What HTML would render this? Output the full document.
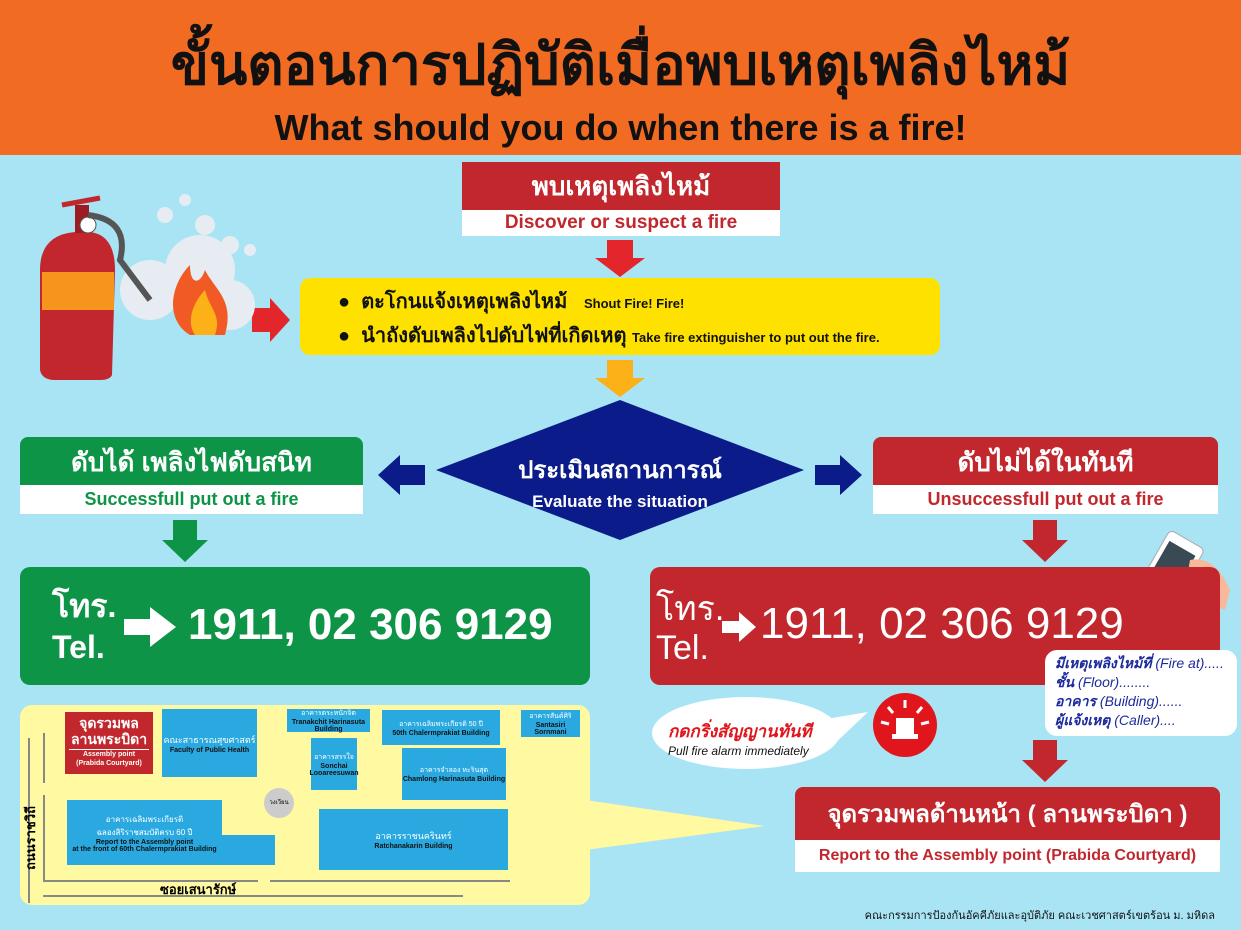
<!DOCTYPE html>
<html><head><meta charset="utf-8"><style>
*{margin:0;padding:0;box-sizing:border-box}
body{width:1241px;height:930px;position:relative;overflow:hidden;background:#a9e4f5;font-family:"Liberation Sans","DejaVu Sans",sans-serif}
.a{position:absolute}
.c{text-align:center}
.b{font-weight:bold}
.map div.bl{position:absolute;background:#29a9e0;color:#fff;font-size:7px;text-align:center;display:flex;flex-direction:column;justify-content:center;align-items:center}
.map div.bl b{color:#111;font-size:7px}
</style></head><body>
<div class="a" style="left:0;top:0;width:1241px;height:155px;background:#f26b22"></div>
<div class="a c b" style="left:0;top:30px;width:1241px;font-size:56px;line-height:70px;color:#111">ขั้นตอนการปฏิบัติเมื่อพบเหตุเพลิงไหม้</div>
<div class="a c b" style="left:0;top:107px;width:1241px;font-size:36px;line-height:42px;color:#111">What should you do when there is a fire!</div>

<div class="a c b" style="left:462px;top:162px;width:318px;height:48px;background:#c1272d;color:#fff;font-size:26px;line-height:48px">พบเหตุเพลิงไหม้</div>
<div class="a c b" style="left:462px;top:210px;width:318px;height:26px;background:#fff;color:#c1272d;font-size:19px;line-height:26px">Discover or suspect a fire</div>

<svg class="a" style="left:0;top:0" width="1241" height="930">
<polygon points="607,240 633,240 633,258 645,258 620,277 595,258 607,258" fill="#e2262b"/>
<polygon points="607,360 633,360 633,378 645,378 620,397 595,378 607,378" fill="#fbb117"/>
<polygon points="620,400 804,470 620,540 436,470" fill="#0b1c8a"/>
<polygon points="425,465 400,465 400,455 378,475 400,495 400,485 425,485" fill="#0b1c8a"/>
<polygon points="815,465 840,465 840,455 862,475 840,495 840,485 815,485" fill="#0b1c8a"/>
<polygon points="173,520 197,520 197,540 208,540 185,562 162,540 173,540" fill="#0e9447"/>
<polygon points="1033,520 1057,520 1057,540 1068,540 1045,562 1022,540 1033,540" fill="#c1272d"/>
<polygon points="1033,740 1057,740 1057,760 1068,760 1045,782 1022,760 1033,760" fill="#c1272d"/>
<polygon points="252,308 270,308 270,298 290,320 270,342 270,332 252,332" fill="#e2262b"/>
<g>
<circle cx="150" cy="290" r="30" fill="#e6ecf2"/><circle cx="200" cy="270" r="35" fill="#e6ecf2"/><circle cx="230" cy="305" r="25" fill="#e6ecf2"/><circle cx="165" cy="215" r="8" fill="#e6ecf2"/><circle cx="205" cy="225" r="10" fill="#e6ecf2"/><circle cx="230" cy="245" r="9" fill="#e6ecf2"/><circle cx="250" cy="250" r="6" fill="#e6ecf2"/><circle cx="185" cy="200" r="6" fill="#e6ecf2"/>
<path d="M190,335 C165,320 170,285 190,265 C190,285 200,285 205,270 C215,290 235,300 225,335 Z" fill="#f15a24"/>
<path d="M195,335 C185,320 195,300 205,290 C210,310 222,315 215,335 Z" fill="#fbb117"/>
<path d="M40,270 Q40,235 75,232 L90,232 Q115,235 115,270 L112,375 Q110,380 100,380 L55,380 Q42,380 40,370 Z" fill="#c1272d"/>
<rect x="42" y="272" width="72" height="38" fill="#f7941d"/>
<rect x="75" y="205" width="14" height="28" fill="#9c1c22"/>
<circle cx="88" cy="225" r="8" fill="#fff" stroke="#555"/>
<path d="M88,215 Q130,220 120,260 L150,300" stroke="#555" stroke-width="6" fill="none"/>
<path d="M62,205 L100,198" stroke="#c1272d" stroke-width="5"/>
</g>
<ellipse cx="746" cy="733" rx="94" ry="36" fill="#fff"/>
<polygon points="820,720 868,712 830,748" fill="#fff"/>
<circle cx="905" cy="725" r="32" fill="#e0161c"/>
<rect x="896" y="718" width="18" height="16" fill="#fff"/><rect x="892" y="734" width="26" height="5" fill="#fff"/>
<g stroke="#fff" stroke-width="3"><line x1="905" y1="700" x2="905" y2="708"/><line x1="888" y1="707" x2="893" y2="713"/><line x1="922" y1="707" x2="917" y2="713"/><line x1="881" y1="722" x2="889" y2="724"/><line x1="929" y1="722" x2="921" y2="724"/></g>
<polygon points="1165,600 1185,600 1140,665 1120,665" fill="#fff"/>
<g transform="rotate(30 1170 570)"><rect x="1150" y="535" width="40" height="70" rx="5" fill="#fff" stroke="#aaa"/><rect x="1155" y="545" width="30" height="50" fill="#3a4a55"/></g>
<path d="M1190,560 Q1215,555 1230,590 L1225,610 Q1200,600 1185,590 Z" fill="#f8b99a"/>
<polygon points="585,800 765,826 585,850" fill="#fff9a1"/>
</svg>

<div class="a" style="left:300px;top:278px;width:640px;height:77px;background:#ffe100;border-radius:10px"></div>
<div class="a" style="left:338px;top:288px;font-size:20px;line-height:28px;color:#111;font-weight:bold">●&nbsp; ตะโกนแจ้งเหตุเพลิงไหม้ &nbsp;&nbsp;<span style="font-size:13px">Shout Fire! Fire!</span></div>
<div class="a" style="left:338px;top:322px;font-size:20px;line-height:28px;color:#111;font-weight:bold">●&nbsp; นำถังดับเพลิงไปดับไฟที่เกิดเหตุ <span style="font-size:13px">Take fire extinguisher to put out the fire.</span></div>

<div class="a c b" style="left:470px;top:450px;width:300px;font-size:24px;color:#fff">ประเมินสถานการณ์</div>
<div class="a c b" style="left:470px;top:492px;width:300px;font-size:17px;color:#fff">Evaluate the situation</div>

<div class="a c b" style="left:20px;top:437px;width:343px;height:48px;background:#0e9447;border-radius:8px 8px 0 0;color:#fff;font-size:26px;line-height:50px">ดับได้ เพลิงไฟดับสนิท</div>
<div class="a c b" style="left:20px;top:485px;width:343px;height:29px;background:#fff;color:#0e9447;font-size:18px;line-height:29px">Successfull put out a fire</div>
<div class="a c b" style="left:873px;top:437px;width:345px;height:48px;background:#c1272d;border-radius:8px 8px 0 0;color:#fff;font-size:26px;line-height:50px">ดับไม่ได้ในทันที</div>
<div class="a c b" style="left:873px;top:485px;width:345px;height:29px;background:#fff;color:#c1272d;font-size:18px;line-height:29px">Unsuccessfull put out a fire</div>

<div class="a" style="left:20px;top:567px;width:570px;height:118px;background:#0e9447;border-radius:10px;color:#fff">
<div class="a b" style="left:32px;top:14px;font-size:32px">โทร.</div>
<div class="a b" style="left:32px;top:62px;font-size:32px">Tel.</div>
<svg class="a" style="left:104px;top:40px" width="52" height="40"><polygon points="0,12 26,12 26,0 52,20 26,40 26,28 0,28" fill="#fff"/></svg>
<div class="a b" style="left:168px;top:33px;font-size:44px">1911, 02 306 9129</div>
</div>
<div class="a" style="left:650px;top:567px;width:570px;height:118px;background:#c1272d;border-radius:10px;color:#fff">
<div class="a" style="left:6px;top:14px;font-size:34px">โทร.</div>
<div class="a" style="left:6px;top:62px;font-size:34px">Tel.</div>
<svg class="a" style="left:72px;top:45px" width="34" height="30"><polygon points="0,9 17,9 17,0 34,15 17,30 17,21 0,21" fill="#fff"/></svg>
<div class="a" style="left:110px;top:32px;font-size:44px">1911, 02 306 9129</div>
</div>

<div class="a" style="left:1045px;top:650px;width:192px;height:86px;background:#fff;border-radius:12px;color:#1c2a9c;font-size:14px;line-height:19px;padding:4px 10px;font-style:italic">
<b>มีเหตุเพลิงไหม้ที่</b> (Fire at).....<br><b>ชั้น</b> (Floor)........<br><b>อาคาร</b> (Building)......<br><b>ผู้แจ้งเหตุ</b> (Caller)....</div>

<div class="a b" style="left:668px;top:718px;font-size:17px;color:#e0161c;font-style:italic">กดกริ่งสัญญานทันที</div>
<div class="a" style="left:668px;top:744px;font-size:12px;color:#111;font-style:italic">Pull fire alarm immediately</div>

<div class="a c b" style="left:795px;top:787px;width:425px;height:53px;background:#c1272d;border-radius:8px 8px 0 0;color:#fff;font-size:24px;line-height:55px">จุดรวมพลด้านหน้า ( ลานพระบิดา )</div>
<div class="a c b" style="left:795px;top:840px;width:425px;height:32px;background:#fff;color:#c1272d;font-size:16px;line-height:32px">Report to the Assembly point (Prabida Courtyard)</div>

<div class="a" style="right:26px;top:906px;font-size:11px;color:#111">คณะกรรมการป้องกันอัคคีภัยและอุบัติภัย คณะเวชศาสตร์เขตร้อน ม. มหิดล</div>

<div class="a map" style="left:20px;top:705px;width:570px;height:200px;background:#fff9a1;border-radius:12px">
<div class="a c" style="left:45px;top:7px;width:88px;height:62px;background:#c1272d;color:#fff;font-size:14px;line-height:16px;font-weight:bold;padding-top:3px">จุดรวมพล<br>ลานพระบิดา<div style="font-size:7px;line-height:9px;border-top:1px solid #fff;margin:2px 4px 0">Assembly point<br>(Prabida Courtyard)</div></div>
<div class="bl" style="left:142px;top:4px;width:95px;height:68px;font-size:9px">คณะสาธารณสุขศาสตร์<b>Faculty of Public Health</b></div>
<div class="bl" style="left:267px;top:4px;width:83px;height:23px">อาคารตระหนักจิต<b>Tranakchit Harinasuta Building</b></div>
<div class="bl" style="left:362px;top:5px;width:118px;height:35px">อาคารเฉลิมพระเกียรติ 50 ปี<b>50th Chalermprakiat Building</b></div>
<div class="bl" style="left:501px;top:5px;width:59px;height:27px">อาคารสันต์ศิริ<b>Santasiri Sornmani</b></div>
<div class="bl" style="left:291px;top:33px;width:46px;height:52px">อาคารสรรใจ<b>Sonchai Looareesuwan</b></div>
<div class="bl" style="left:382px;top:43px;width:104px;height:52px">อาคารจำลอง หะรินสุต<b>Chamlong Harinasuta Building</b></div>
<div class="bl" style="left:299px;top:104px;width:189px;height:61px;font-size:9px">อาคารราชนครินทร์<b>Ratchanakarin Building</b></div>
<div class="bl" style="left:47px;top:95px;width:155px;height:65px;font-size:8px">อาคารเฉลิมพระเกียรติ<br>ฉลองสิริราชสมบัติครบ 60 ปี<b>Report to the Assembly point<br>at the front of 60th Chalermprakiat Building</b></div>
<div class="bl" style="left:200px;top:130px;width:55px;height:30px"></div>
<div class="a" style="left:244px;top:83px;width:30px;height:30px;border-radius:50%;background:#ccc;font-size:6px;text-align:center;padding-top:9px">วงเวียน</div>
<div class="a" style="left:8px;top:33px;width:2px;height:165px;background:#888"></div>
<div class="a" style="left:23px;top:28px;width:2px;height:50px;background:#888"></div>
<div class="a" style="left:23px;top:90px;width:2px;height:85px;background:#888"></div>
<div class="a" style="left:23px;top:175px;width:215px;height:2px;background:#888"></div>
<div class="a" style="left:250px;top:175px;width:240px;height:2px;background:#888"></div>
<div class="a" style="left:23px;top:190px;width:420px;height:2px;background:#888"></div>
<div class="a b" style="left:140px;top:174px;font-size:13px">ซอยเสนารักษ์</div>
<div class="a b c" style="left:-29px;top:125px;width:80px;height:16px;font-size:13px;line-height:16px;transform:rotate(-90deg)">ถนนราชวิถี</div>
</div>
</body></html>
